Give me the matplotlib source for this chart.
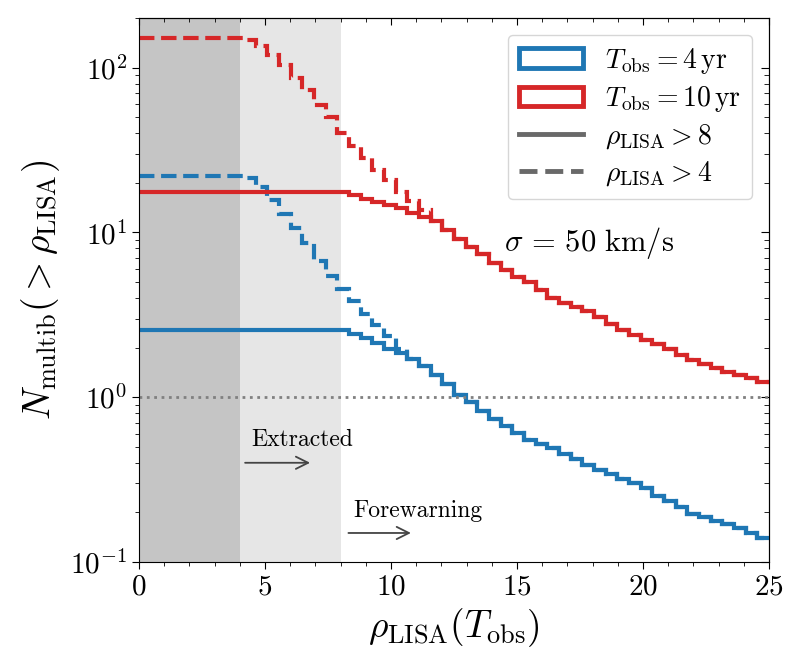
import numpy as np
import matplotlib
matplotlib.use('Agg')
import matplotlib.pyplot as plt
from matplotlib.patches import Patch
from matplotlib.lines import Line2D
from matplotlib.ticker import MultipleLocator

plt.rcParams['font.family'] = 'serif'
plt.rcParams['font.serif'] = ['cmr10']
plt.rcParams['mathtext.fontset'] = 'cm'
plt.rcParams['axes.formatter.use_mathtext'] = True

# bin edges of the SNR grid
rho_edges = np.linspace(0, 25, 55)

# T_obs = 4 yr
n4_rho8 = [2.55]*18 + [2.42, 2.28, 2.13, 1.97, 1.86, 1.70, 1.55, 1.37, 1.20, 1.03,
                       0.93, 0.82, 0.74, 0.67, 0.61, 0.55, 0.52, 0.49, 0.455, 0.42,
                       0.39, 0.36, 0.34, 0.32, 0.30, 0.28, 0.25, 0.235, 0.215, 0.195,
                       0.188, 0.178, 0.17, 0.16, 0.15, 0.14]
n4_rho4 = [22.0]*9 + [21.4, 18.8, 15.7, 12.9, 10.6, 8.57, 6.75, 5.47, 4.56, 3.85,
                      3.21, 2.75, 2.35, 1.95,
                      1.70, 1.55, 1.37, 1.20, 1.03, 0.93, 0.82, 0.74, 0.67, 0.61,
                      0.55, 0.52, 0.49, 0.455, 0.42, 0.39, 0.36, 0.34, 0.32, 0.30,
                      0.28, 0.25, 0.235, 0.215, 0.195, 0.188, 0.178, 0.17, 0.16, 0.15, 0.14]

# T_obs = 10 yr
n10_rho8 = [17.5]*18 + [16.9, 16.0, 15.2, 14.6, 14.0, 13.2, 12.4, 11.7, 10.3, 9.1,
                        8.2, 7.4, 6.5, 5.9, 5.4, 5.0, 4.5, 4.0, 3.75, 3.55,
                        3.35, 3.05, 2.8, 2.55, 2.38, 2.22, 2.1, 1.97, 1.8, 1.68,
                        1.58, 1.5, 1.42, 1.36, 1.3, 1.23]
n10_rho4 = [152.0]*9 + [148, 136, 120, 103, 87, 73, 59, 50, 40, 33.4,
                        28.2, 23.9, 20.8, 17.5, 15.5, 13.6,
                        11.7, 10.3, 9.1, 8.2, 7.4, 6.5, 5.9, 5.4, 5.0, 4.5,
                        4.0, 3.75, 3.55, 3.35, 3.05, 2.8, 2.55, 2.38, 2.22, 2.1,
                        1.97, 1.8, 1.68, 1.58, 1.5, 1.42, 1.36, 1.3, 1.23]

c4 = 'tab:blue'
c10 = 'tab:red'

fig = plt.figure(figsize=(8.01, 6.70), dpi=100)
ax = fig.add_axes([139/801, 1-562/670, (769-139)/801, (562-18)/670])

ax.axvspan(0, 4, color='#c5c5c5', lw=0, zorder=0)
ax.axvspan(4, 8, color='#e6e6e6', lw=0, zorder=0)

ax.stairs(n4_rho4, rho_edges, color=c4, lw=3, ls='--', baseline=None)
ax.stairs(n10_rho4, rho_edges, color=c10, lw=3, ls='--', baseline=None)
ax.stairs(n4_rho8, rho_edges, color=c4, lw=3, baseline=None)
ax.stairs(n10_rho8, rho_edges, color=c10, lw=3, baseline=None)

ax.axhline(1, color='gray', ls=':', lw=2)

ax.annotate('', xy=(6.9, 0.40), xytext=(4.1, 0.40),
            arrowprops=dict(arrowstyle='->', color='#444444', lw=1.3, mutation_scale=22))
ax.text(4.45, 0.55, 'Extracted', fontsize=17, va='center')
ax.annotate('', xy=(10.9, 0.15), xytext=(8.2, 0.15),
            arrowprops=dict(arrowstyle='->', color='#444444', lw=1.3, mutation_scale=22))
ax.text(8.5, 0.205, 'Forewarning', fontsize=17, va='center')

ax.text(14.5, 8.6, r'$\sigma\,=\,50\ \mathrm{km/s}$', fontsize=22, va='center')

ax.set_yscale('log')
ax.set_xlim(0, 25)
ax.set_ylim(0.1, 200)
ax.xaxis.set_major_locator(MultipleLocator(5))
ax.xaxis.set_minor_locator(MultipleLocator(1))
ax.tick_params(which='both', direction='out', labelsize=21)
ax.tick_params(which='major', length=5)
ax.tick_params(which='minor', length=3)

secx = ax.secondary_xaxis('top')
secx.xaxis.set_major_locator(MultipleLocator(5))
secx.xaxis.set_minor_locator(MultipleLocator(1))
secx.tick_params(which='both', direction='in', labeltop=False)
secx.tick_params(which='major', length=5)
secx.tick_params(which='minor', length=3)
secy = ax.secondary_yaxis('right')
secy.tick_params(which='both', direction='in', labelright=False)
secy.tick_params(which='major', length=6)
secy.tick_params(which='minor', length=3.5)

ax.set_xlabel(r'$\rho_{\rm LISA}(T_{\rm obs})$', fontsize=27, labelpad=4)
ax.set_ylabel(r'$N_{\rm multib}(>\rho_{\rm LISA})$', fontsize=27, labelpad=6)

handles = [Patch(facecolor='white', edgecolor=c4, lw=3.5),
           Patch(facecolor='white', edgecolor=c10, lw=3.5),
           Line2D([], [], color='dimgray', lw=3.5),
           Line2D([], [], color='dimgray', lw=3.5, ls='--')]
labels = [r'$T_{\rm obs} = 4\,{\rm yr}$', r'$T_{\rm obs} = 10\,{\rm yr}$',
          r'$\rho_{\rm LISA} > 8$', r'$\rho_{\rm LISA} > 4$']
ax.legend(handles, labels, loc='upper right', fontsize=20, handlelength=2.3,
          labelspacing=0.3, borderaxespad=0.6)

fig.savefig('out.png', dpi=100)
